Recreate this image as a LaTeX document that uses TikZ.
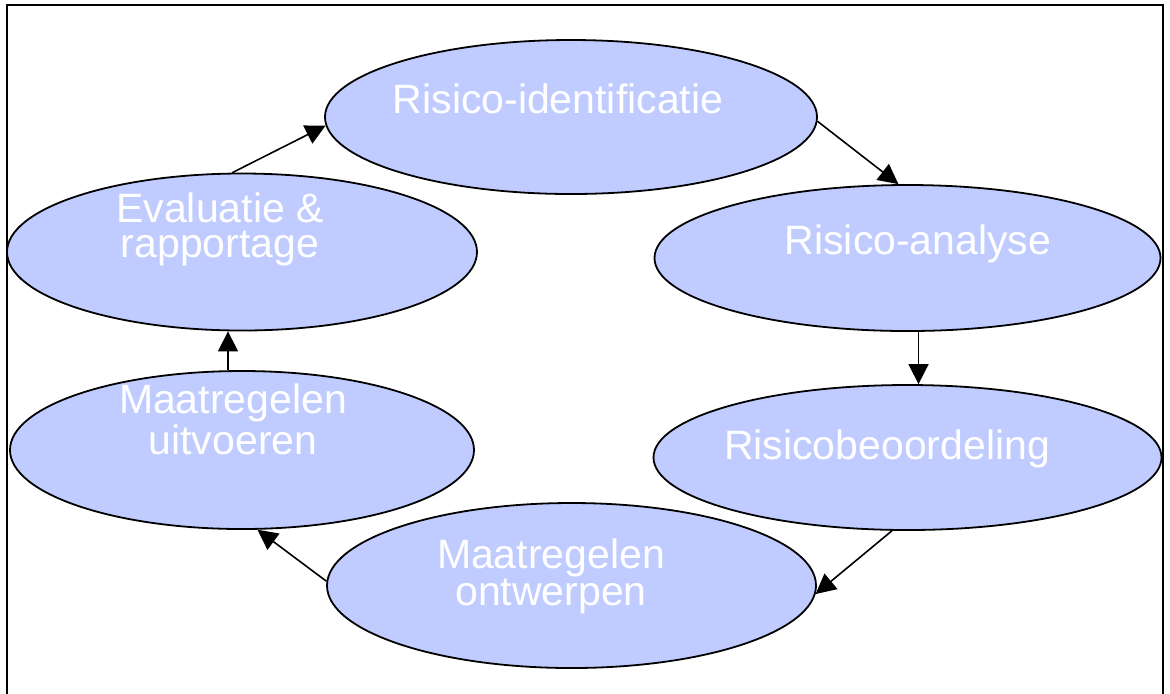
\documentclass[tikz,border=0pt]{standalone}
\usepackage{fontspec}
\setmainfont{Liberation Sans}
\usetikzlibrary{shapes.geometric,arrows.meta}

\definecolor{stapblauw}{RGB}{192,204,255}

\tikzset{
  stap/.style={ellipse, draw=black, line width=0.9pt, fill=stapblauw, inner sep=0pt},
  stapnaam/.style={anchor=base, text=white, align=center,
    font=\fontsize{20.5}{17.5}\selectfont},
  pijl/.style={line width=0.8pt, -{Triangle[length=10pt,width=10pt]}}
}

\begin{document}
\begin{tikzpicture}[x=0.5pt,y=-0.5pt]
\useasboundingbox (0,0) rectangle (1170,693);

% frame, open at the bottom
\draw[line width=1pt] (7,710) -- (7,5) -- (1163,5) -- (1163,710);

% the six steps
\node[stap, minimum width=246pt, minimum height=77pt] (ident) at (571,117) {};
\node[stap, minimum width=253pt, minimum height=73pt] (analyse) at (907.5,258) {};
\node[stap, minimum width=254pt, minimum height=72.5pt] (beoord) at (907.5,457.5) {};
\node[stap, minimum width=244.5pt, minimum height=82.5pt] (ontwerp) at (571.5,585.5) {};
\node[stap, minimum width=232pt, minimum height=79pt] (uitvoer) at (242,450) {};
\node[stap, minimum width=235pt, minimum height=78.5pt] (eval) at (242,252) {};

% names, set high in the ellipses (base = last line)
\node[stapnaam] at (558,113) {Risico-identificatie};
\node[stapnaam] at (918,254) {Risico-analyse};
\node[stapnaam] at (887,459) {Risicobeoordeling};
\node[stapnaam] at (551,605) {Maatregelen\\ontwerpen};
\node[stapnaam] at (233,454) {Maatregelen\\uitvoeren};
\node[stapnaam] at (220,257) {Evaluatie \&\\rapportage};

% arrows round the cycle
\draw[pijl] (ident.-1) -- (analyse.97);
\draw[pijl] ([xshift=5.5pt]analyse.south) -- ([xshift=5.5pt]beoord.north);
\draw[pijl] (beoord.258) -- (ontwerp.-2);
\draw[pijl] (ontwerp.179) -- (uitvoer.-79);
\draw[pijl] ([xshift=-7pt]uitvoer.north) -- ([xshift=-7pt]eval.south);
\draw[pijl] (eval.97) -- (ident.182);

\end{tikzpicture}
\end{document}
